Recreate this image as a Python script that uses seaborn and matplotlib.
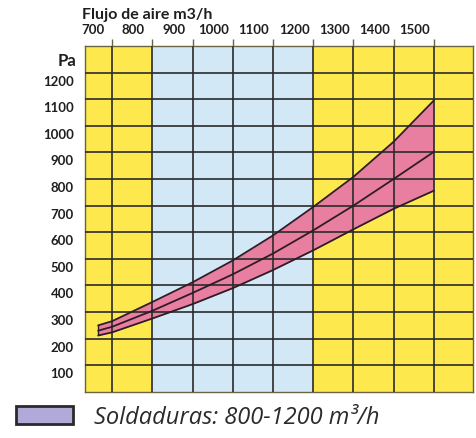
import numpy as np
import pandas as pd
import matplotlib
matplotlib.use("Agg")
import matplotlib.pyplot as plt
import seaborn as sns
from matplotlib.patches import Patch
from matplotlib.transforms import ScaledTranslation

# curve readings (Pa vs air flow m3/h)
flow = [665, 700, 800, 900, 1000, 1100, 1200, 1300, 1400, 1500]
upper = [250, 266, 338, 412, 494, 588, 695, 808, 940, 1095]
middle = [230, 245, 305, 372, 442, 520, 607, 700, 800, 902]
lower = [212, 224, 276, 330, 390, 458, 532, 611, 688, 756]

x_ticks = [700, 800, 900, 1000, 1100, 1200, 1300, 1400, 1500]
y_ticks = [100, 200, 300, 400, 500, 600, 700, 800, 900, 1000, 1100, 1200]
weld_range = (800, 1200)

sns.set_style("white")
plt.rcParams['font.family'] = ['Lato', 'DejaVu Sans']

df = pd.DataFrame({"flow": flow, "upper": upper, "middle": middle, "lower": lower})

fig = plt.figure(figsize=(4.77, 4.39), dpi=100)
ax = fig.add_axes([0.178, 0.105, 0.814, 0.788])

xmin, xmax = 632, 1598
ax.axvspan(xmin, weld_range[0], color="#fde94e", zorder=0)
ax.axvspan(weld_range[0], weld_range[1], color="#d3e8f6", zorder=0)
ax.axvspan(weld_range[1], xmax, color="#fde94e", zorder=0)

ax.fill_between(df["flow"], df["lower"], df["upper"], color="#e97fa0", zorder=2, lw=0)
for col in ["upper", "middle", "lower"]:
    sns.lineplot(data=df, x="flow", y=col, ax=ax, color="#2e1c26", lw=1.3, zorder=3)
ax.plot([flow[0], flow[0]], [lower[0], upper[0]], color="#2e1c26", lw=1.0, zorder=3)

ax.set_xlim(xmin, xmax)
ax.set_ylim(0, 1300)
ax.set_xticks(x_ticks)
ax.set_yticks(y_ticks)
ax.grid(True, color="#2a2b2b", lw=1.2, zorder=1)
ax.set_axisbelow(False)
for s in ax.spines.values():
    s.set_color("#6b6440")
    s.set_linewidth(1.0)

ax.xaxis.tick_top()
ax.tick_params(axis="x", direction="out", length=5, width=1, color="#6b6440",
               labelsize=9.5, pad=3, top=True, bottom=False)
ax.tick_params(axis="y", direction="out", length=6, width=1.2, color="#2a2b2b",
               labelsize=9.5, pad=2)
for lab in ax.get_xticklabels():
    lab.set_fontweight("bold")
    lab.set_color("#1e1e1e")
    lab.set_transform(lab.get_transform() + ScaledTranslation(-0.19, 0, fig.dpi_scale_trans))
for lab in ax.get_yticklabels():
    lab.set_fontweight("bold")
    lab.set_color("#1e1e1e")
    lab.set_transform(lab.get_transform() + ScaledTranslation(0, -0.07, fig.dpi_scale_trans))
ax.set_xlabel("")
ax.set_ylabel("")

fig.text(0.172, 0.965, "Flujo de aire m3/h", fontsize=11.5, fontweight="bold",
         color="#1e1e1e", ha="left", va="center")
fig.text(0.160, 0.862, "Pa", fontsize=12, fontweight="bold", color="#1e1e1e",
         ha="right", va="center")

handle = Patch(facecolor="#b1aad8", edgecolor="#2a2a2a", linewidth=2)
fig.legend([handle], ["Soldaduras: 800-1200 m\u00b3/h"], loc="center left",
           bbox_to_anchor=(0.008, 0.048), frameon=False, borderpad=0,
           handlelength=2.45, handleheight=0.8, handletextpad=0.85,
           prop={"family": "Open Sans", "style": "italic", "size": 17},
           labelcolor="#2b2b2b")

fig.savefig("out.png", dpi=100)
